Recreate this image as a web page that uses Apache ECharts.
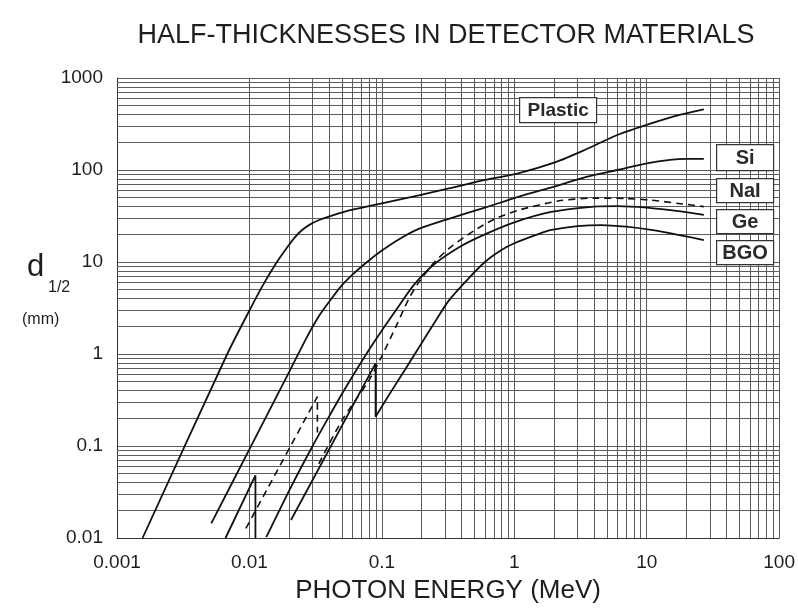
<!DOCTYPE html>
<html>
<head>
<meta charset="utf-8">
<script src="https://cdn.jsdelivr.net/npm/echarts@6/dist/echarts.min.js"></script>
<style>
  html, body { margin: 0; padding: 0; background: #fff; }
  #chart { width: 798px; height: 614px; }
</style>
</head>
<body>
<div id="chart"></div>
<script>
// Axis tick labels (one per decade)
const xTickLabels = ['0.001', '0.01', '0.1', '1', '10', '100'];
const yTickLabels = ['0.01', '0.1', '1', '10', '100', '1000'];

// Half-thickness d1/2 (mm) versus photon energy (MeV)
const plasticCurve = [[0.00156,0.01],[0.0068,1.0],[0.0105,3.4],[0.013,6.0],[0.016,9.8],[0.019,14],[0.022,18.5],[0.025,22.3],[0.029,25.8],[0.034,28.8],[0.042,32],[0.06,37],[0.1,43.5],[0.19,53],[0.32,63],[0.6,78],[1.07,92],[2,120],[3.4,165],[6,240],[10.8,321],[18,400],[27,457]];
const siCurve = [[0.00515,0.0144],[0.0101,0.095],[0.0202,0.66],[0.027,1.5],[0.0336,2.6],[0.04,3.7],[0.05,5.6],[0.06,7.3],[0.0753,9.7],[0.1,13.3],[0.134,17.6],[0.19,22.9],[0.32,29.5],[0.6,39],[1.07,51],[2,66],[3.5,84],[6,100],[10,118],[15,129],[20,132],[27,132]];
const naiBelowK = [[0.0094,0.0127],[0.0326,0.344],[0.0326,0.14]];
const naiAboveK = [[0.0334,0.064],[0.05,0.19],[0.08,0.52],[0.1,0.95],[0.13,2.1],[0.16,4.0],[0.19,6.0],[0.25,10],[0.34,15],[0.5,22],[0.7,29],[1.07,36.5],[2.14,46],[4,49.5],[7,49],[10.8,47],[18,43],[27,40]];
const geBelowK = [[0.0066,0.01],[0.0111,0.048],[0.0111,0.01]];
const geAboveK = [[0.0134,0.0102],[0.02,0.033],[0.03,0.1],[0.04,0.21],[0.05,0.37],[0.0753,0.97],[0.1,1.8],[0.13,3.1],[0.174,5.6],[0.25,9.5],[0.4,15],[0.6,20],[1.0,27],[1.9,35],[4,40],[6,40.5],[10,39],[18,35.5],[27,32.5]];
const bgoBelowK = [[0.0206,0.0157],[0.0897,0.79],[0.0897,0.208]];
const bgoAboveK = [[0.0897,0.208],[0.12,0.41],[0.15,0.68],[0.19,1.17],[0.25,2.2],[0.32,3.8],[0.45,6.6],[0.6,10],[0.8,13.5],[1.0,16],[1.5,20],[1.91,22.3],[3,24.5],[4.54,25.2],[7,24.2],[10.8,22.3],[18,19.5],[27,17.3]];

// Minor grid lines of the log paper (2..9 within each decade)
function minorValues(firstExp, lastExp) {
  const out = [];
  for (let e = firstExp; e < lastExp; e++) {
    for (let m = 2; m <= 9; m++) out.push(+(m * Math.pow(10, e)).toPrecision(6));
  }
  return out;
}
const xMinor = minorValues(-3, 2);
const yMinor = minorValues(-2, 3);

const gridColor = '#5c5c5c';
const curveColor = '#111';
const fontFamily = '"Liberation Sans", Arial, Helvetica, sans-serif';

function decadeLabel(labels, firstExp) {
  return function (v) {
    const i = Math.round(Math.log10(v)) - firstExp;
    return labels[i] !== undefined ? labels[i] : '';
  };
}

function curve(name, data, opts) {
  return Object.assign({
    name: name,
    type: 'line',
    data: data,
    showSymbol: false,
    symbol: 'none',
    silent: true,
    smooth: 0.25,
    lineStyle: { color: curveColor, width: 1.8 },
    z: 5
  }, opts || {});
}

function boxLabel(text, x, y, w, h, size) {
  return {
    type: 'group', left: x, top: y, z: 100,
    children: [
      { type: 'rect', z: 100, shape: { x: 0, y: 0, width: w, height: h }, style: { fill: '#fff', stroke: '#333', lineWidth: 1.2 } },
      { type: 'text', z: 101, style: { text: text, x: w / 2, y: h / 2 + 1, align: 'center', verticalAlign: 'middle', font: 'bold ' + size + 'px ' + fontFamily, fill: '#2a2a2a' } }
    ]
  };
}

const dashed = { color: curveColor, width: 1.6, type: [7, 5] };

const chart = echarts.init(document.getElementById('chart'), null, { renderer: 'canvas' });

chart.setOption({
  animation: false,
  backgroundColor: '#fff',
  title: {
    text: 'HALF-THICKNESSES IN DETECTOR MATERIALS',
    left: 441, top: 17, textAlign: 'center',
    textStyle: { fontFamily: fontFamily, fontSize: 27, fontWeight: 'normal', color: '#1e1e1e' }
  },
  grid: { left: 117, top: 78, width: 665, height: 460, containLabel: false },
  xAxis: {
    type: 'log', logBase: 10, min: 0.001, max: 100,
    name: 'PHOTON ENERGY (MeV)', nameLocation: 'middle', nameGap: 40,
    nameTextStyle: { fontFamily: fontFamily, fontSize: 26, color: '#1e1e1e' },
    axisLine: { show: true, lineStyle: { color: '#333', width: 1 } },
    axisTick: { show: false },
    axisLabel: { margin: 15, fontFamily: fontFamily, fontSize: 19, color: '#1e1e1e', formatter: decadeLabel(xTickLabels, -3) },
    splitLine: { show: true, lineStyle: { color: gridColor, width: 1 } }
  },
  yAxis: {
    type: 'log', logBase: 10, min: 0.01, max: 1000,
    axisLine: { show: true, lineStyle: { color: '#333', width: 1 } },
    axisTick: { show: false },
    axisLabel: { margin: 14, fontFamily: fontFamily, fontSize: 19, color: '#1e1e1e', formatter: decadeLabel(yTickLabels, -2) },
    splitLine: { show: true, lineStyle: { color: gridColor, width: 1 } }
  },
  graphic: [
    { type: 'text', left: 27, top: 252, style: { text: 'd', font: '31px ' + fontFamily, fill: '#1e1e1e' } },
    { type: 'text', left: 48, top: 280, style: { text: '1/2', font: '16px ' + fontFamily, fill: '#1e1e1e' } },
    { type: 'text', left: 22, top: 312, style: { text: '(mm)', font: '16px ' + fontFamily, fill: '#1e1e1e' } },
    boxLabel('Plastic', 519, 97, 77, 25, 19),
    boxLabel('Si', 716, 144, 57, 26, 20),
    boxLabel('NaI', 716, 178, 57, 24, 20),
    boxLabel('Ge', 716, 209, 57, 24, 20),
    boxLabel('BGO', 716, 240, 57, 24, 20)
  ],
  series: [
    curve('Plastic', plasticCurve, {
      markLine: {
        silent: true, symbol: ['none', 'none'], label: { show: false }, z: 1,
        lineStyle: { color: gridColor, width: 1, type: 'solid' },
        data: xMinor.map(v => ({ xAxis: v })).concat(yMinor.map(v => ({ yAxis: v })))
      }
    }),
    curve('Si', siCurve),
    curve('NaI', naiBelowK, { smooth: false, lineStyle: dashed }),
    curve('NaI', naiAboveK, { lineStyle: dashed }),
    curve('Ge', geBelowK, { smooth: false }),
    curve('Ge', geAboveK),
    curve('BGO', bgoBelowK, { smooth: false }),
    curve('BGO', bgoAboveK)
  ]
});
</script>
</body>
</html>
